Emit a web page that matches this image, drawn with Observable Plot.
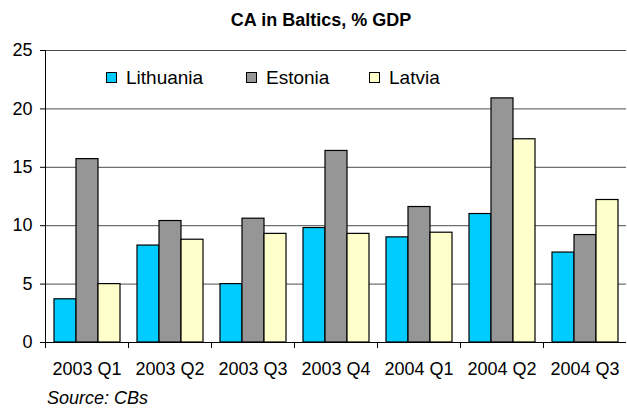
<!DOCTYPE html>
<html><head><meta charset="utf-8">
<script src="https://cdn.jsdelivr.net/npm/d3@7"></script>
<script src="https://cdn.jsdelivr.net/npm/@observablehq/plot@0.6"></script>
<style>
body{margin:0;background:#fff;font-family:"Liberation Sans",Arial,sans-serif;color:#000;}
#wrap{position:relative;width:627px;height:408px;overflow:hidden;}
#wrap svg{position:absolute;left:0;top:0;}
.title{position:absolute;top:10px;left:0;width:642px;text-align:center;font-weight:bold;font-size:18px;}
.legend{position:absolute;top:67px;font-size:19px;line-height:22px;}
.legend span.sw{display:inline-block;width:9px;height:9px;border:1px solid #000;margin-right:9px;vertical-align:1px;}
.source{position:absolute;left:47px;top:389px;font-style:italic;font-size:18px;line-height:18px;}
</style></head><body><div id="wrap"></div><script>
const quarters = ["2003 Q1","2003 Q2","2003 Q3","2003 Q4","2004 Q1","2004 Q2","2004 Q3"];
const series = ["Lithuania","Estonia","Latvia"];
const lithuania = [3.7, 8.3, 5.0, 9.8, 9.0, 11.0, 7.7];
const estonia  = [15.7, 10.4, 10.6, 16.4, 11.6, 20.9, 9.2];
const latvia   = [5.0, 8.8, 9.3, 9.3, 9.4, 17.4, 12.2];
const colors = ["#00ccff","#969696","#ffffcc"];
const yTicks = [0,5,10,15,20,25];
const titleText = "CA in Baltics, % GDP";
const sourceText = "Source: CBs";

const values = [lithuania, estonia, latvia];
const rows = [];
quarters.forEach((q,i)=>series.forEach((s,j)=>rows.push({quarter:q, series:s, value:values[j][i]})));

const W = 627, H = 408, ML = 44, MR = 0, MT = 50, MB = 66;
const innerH = H - MT - MB;

const chart = Plot.plot({
  width: W, height: H,
  marginTop: MT, marginBottom: MB, marginLeft: ML, marginRight: MR,
  style: {fontFamily: '"Liberation Sans", Arial, sans-serif', fontSize: "18px", color: "#000", background: "#fff", overflow: "visible"},
  fx: {domain: quarters, padding: 0, label: null},
  x: {domain: series, paddingInner: 0, paddingOuter: 0.35, axis: null},
  y: {domain: [0, 25]},
  color: {domain: series, range: colors},
  marks: [
    Plot.ruleY(yTicks.slice(1), {stroke: "#000", strokeOpacity: 0.7}),
    Plot.barY(rows, {fx: "quarter", x: "series", y: "value", fill: "series", stroke: "#000", strokeWidth: 1.2}),
    Plot.ruleY([0], {stroke: "#000"}),
    Plot.frame({anchor: "left", fx: [quarters[0]], stroke: "#000"}),
    // category separator ticks below the baseline at each group's left edge
    Plot.frame({anchor: "left", stroke: "#000", insetTop: innerH, insetBottom: -5}),
    Plot.axisY({ticks: yTicks, tickSize: 5, tickPadding: 8, fontSize: 18, label: null}),
    Plot.axisFx({anchor: "bottom", tickSize: 0, tickPadding: 20, fontSize: 18, label: null})
  ]
});
const wrap = document.getElementById("wrap");
wrap.appendChild(chart);

const t = document.createElement("div"); t.className = "title"; t.textContent = titleText; wrap.appendChild(t);
const legX = [106, 246, 369];
series.forEach((s,j)=>{
  const d = document.createElement("div"); d.className = "legend"; d.style.left = legX[j] + "px";
  const sw = document.createElement("span"); sw.className = "sw"; sw.style.background = colors[j];
  d.appendChild(sw); d.appendChild(document.createTextNode(s)); wrap.appendChild(d);
});
const src = document.createElement("div"); src.className = "source"; src.textContent = sourceText; wrap.appendChild(src);
</script></body></html>
